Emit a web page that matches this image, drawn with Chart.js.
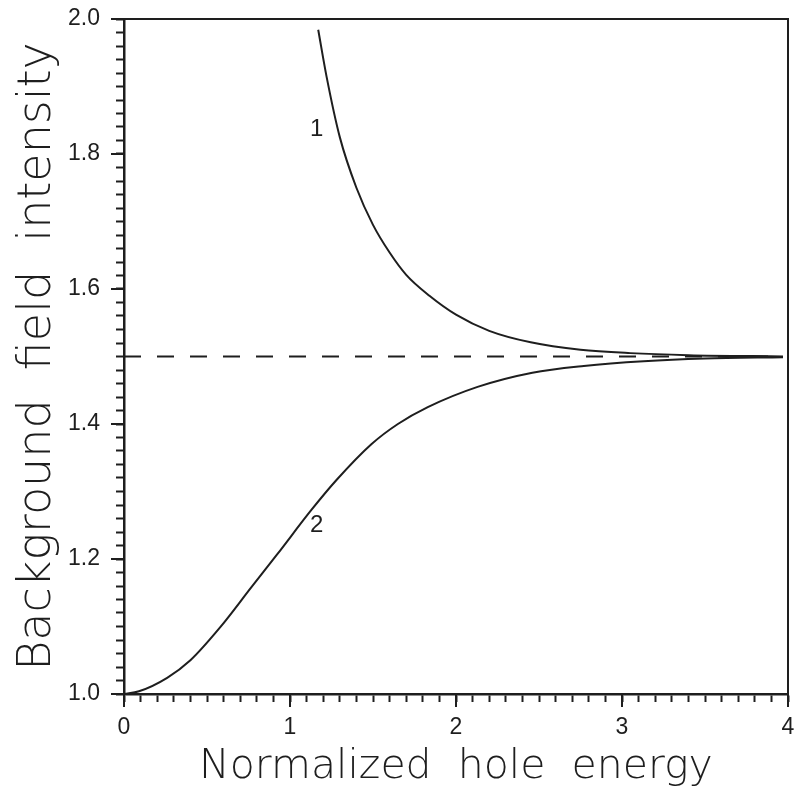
<!DOCTYPE html>
<html>
<head>
<meta charset="utf-8">
<script src="https://cdn.jsdelivr.net/npm/chart.js@4/dist/chart.umd.min.js"></script>
<style>
  html, body { margin: 0; padding: 0; background: #fff; }
  #wrap { width: 800px; height: 796px; }
</style>
</head>
<body>
<div id="wrap"><canvas id="chart"></canvas></div>
<script>
// curve 1 (decreasing branch)
const curve1X = [1.17, 1.22, 1.30, 1.40, 1.50, 1.60, 1.70, 1.84, 2.00, 2.20, 2.45, 2.75, 3.05, 3.40, 3.97];
const curve1Y = [1.984, 1.915, 1.825, 1.750, 1.695, 1.654, 1.621, 1.590, 1.562, 1.538, 1.521, 1.510, 1.505, 1.502, 1.500];

// curve 2 (rising branch)
const curve2X = [0, 0.09, 0.26, 0.40, 0.58, 0.77, 0.92, 1.13, 1.28, 1.49, 1.65, 1.83, 2.13, 2.46, 2.77, 3.13, 3.50, 3.97];
const curve2Y = [1.000, 1.004, 1.024, 1.050, 1.099, 1.159, 1.206, 1.273, 1.317, 1.370, 1.400, 1.425, 1.455, 1.476, 1.486, 1.493, 1.497, 1.499];

// asymptote
const asymX = [0, 3.97];
const asymY = [1.5, 1.5];

// curve numbers written next to the lines
const curveLabels = ['1', '2'];
const curveLabelX = [1.16, 1.16];
const curveLabelY = [1.836, 1.250];

const xTickLabels = ['0', '1', '2', '3', '4'];
const yTickLabels = ['1.0', '1.2', '1.4', '1.6', '1.8', '2.0'];

const INK = '#1e1e1e';
const tickFont = {family: "'Liberation Sans', Arial, sans-serif", size: 23};

function pts(xs, ys) {
    return xs.map((x, i) => ({x: x, y: ys[i]}));
}

function isMajor(v, step) {
    const r = v / step;
    return Math.abs(r - Math.round(r)) < 1e-6;
}

// longer major ticks, frame on top/right, curve numbers
const extras = {
    id: 'extras',
    afterDraw(chart) {
        const ctx = chart.ctx;
        const a = chart.chartArea;
        const xs = chart.scales.x, ys = chart.scales.y;
        ctx.save();
        ctx.strokeStyle = INK;
        ctx.lineWidth = 2;
        ctx.beginPath();
        ctx.moveTo(a.left, a.top);
        ctx.lineTo(a.right, a.top);
        ctx.lineTo(a.right, a.bottom);
        ctx.stroke();

        xTickLabels.forEach(t => {
            const px = xs.getPixelForValue(parseFloat(t));
            ctx.beginPath();
            ctx.moveTo(px, a.bottom);
            ctx.lineTo(px, a.bottom + 13);
            ctx.stroke();
        });
        yTickLabels.forEach(t => {
            const py = ys.getPixelForValue(parseFloat(t));
            ctx.beginPath();
            ctx.moveTo(a.left, py);
            ctx.lineTo(a.left - 13, py);
            ctx.stroke();
        });

        ctx.fillStyle = INK;
        ctx.font = "24px 'Liberation Sans', Arial, sans-serif";
        ctx.textAlign = 'center';
        ctx.textBaseline = 'middle';
        curveLabels.forEach((s, i) => {
            ctx.fillText(s, xs.getPixelForValue(curveLabelX[i]), ys.getPixelForValue(curveLabelY[i]));
        });
        ctx.restore();
    }
};

new Chart(document.getElementById('chart'), {
    type: 'line',
    data: {
        datasets: [
            {data: pts(curve1X, curve1Y), borderColor: INK, borderWidth: 2, pointRadius: 0, cubicInterpolationMode: 'monotone', fill: false},
            {data: pts(curve2X, curve2Y), borderColor: INK, borderWidth: 2, pointRadius: 0, cubicInterpolationMode: 'monotone', fill: false},
            {data: pts(asymX, asymY), borderColor: INK, borderWidth: 2, borderDash: [17, 16], pointRadius: 0, fill: false}
        ]
    },
    options: {
        responsive: true,
        maintainAspectRatio: false,
        animation: false,
        events: [],
        layout: {padding: {top: 19, right: 12, left: 0, bottom: 0}},
        plugins: {legend: {display: false}, tooltip: {enabled: false}},
        scales: {
            x: {
                type: 'linear',
                min: 0,
                max: 4,
                afterFit(scale) {
                    scale.height = 102;
                    scale.paddingLeft = 0;
                    scale.paddingRight = 0;
                },
                border: {display: true, color: INK, width: 2.5},
                grid: {drawOnChartArea: false, drawTicks: true, tickLength: 8, tickColor: INK, tickWidth: 2},
                ticks: {
                    stepSize: 0.1,
                    maxTicksLimit: 100,
                    autoSkip: false,
                    maxRotation: 0,
                    color: INK,
                    font: tickFont,
                    padding: 12,
                    callback: (v) => isMajor(v, 1) ? xTickLabels[Math.round(v)] : ''
                },
                title: {
                    display: true, text: 'Normalized  hole  energy', color: INK,
                    font: {family: "'DejaVu Sans', sans-serif", size: 41, weight: 200},
                    padding: {top: 0, bottom: 4}
                }
            },
            y: {
                type: 'linear',
                min: 1.0,
                max: 2.0,
                afterFit(scale) {
                    scale.width = 124;
                    scale.paddingTop = 0;
                    scale.paddingBottom = 0;
                },
                border: {display: true, color: INK, width: 2.5},
                grid: {drawOnChartArea: false, drawTicks: true, tickLength: 8, tickColor: INK, tickWidth: 2},
                ticks: {
                    stepSize: 0.02,
                    maxTicksLimit: 100,
                    autoSkip: false,
                    color: INK,
                    font: tickFont,
                    padding: 16,
                    callback: (v) => isMajor(v, 0.2) ? yTickLabels[Math.round((v - 1) / 0.2)] : ''
                },
                title: {
                    display: true, text: 'Background  field  intensity', color: INK,
                    font: {family: "'DejaVu Sans', sans-serif", size: 46, weight: 200},
                    padding: {top: 10, bottom: 0}
                }
            }
        }
    },
    plugins: [extras]
});
</script>
</body>
</html>
